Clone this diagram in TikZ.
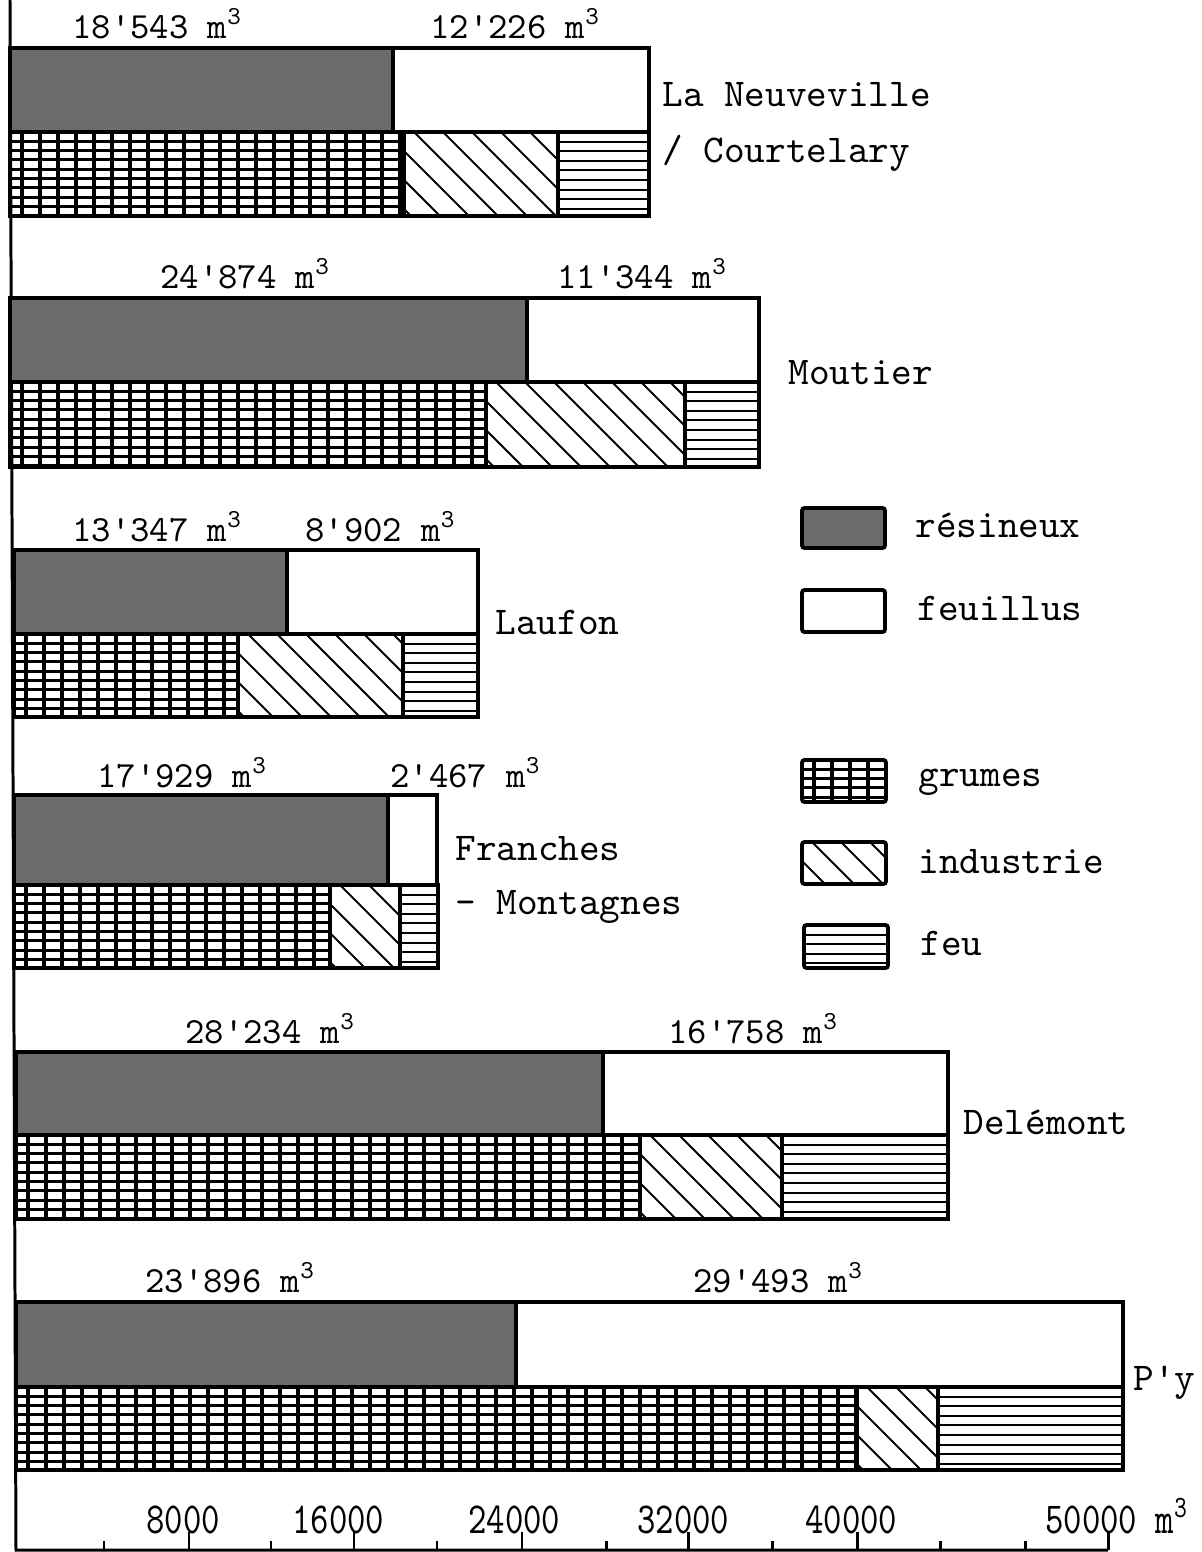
\documentclass[tikz,border=0pt]{standalone}
\usepackage{fontspec}
\setmonofont{lmmono10-regular.otf}

\tikzset{
  bar/.style={draw=black, line width=2.2pt},
  gridline/.style={line width=1.8pt},
  feuline/.style={line width=1.2pt},
  hatchline/.style={line width=1.1pt},
  resineux/.style={bar, fill=black!58},
  feuillus/.style={bar, fill=white},
  grumes/.style={bar, path picture={
    \foreach \i in {1,...,10}
      \draw[gridline] (path picture bounding box.north west) ++(0,\i*9.3) -- ++(1300,0);
    \foreach \i in {1,...,70}
      \draw[gridline] (path picture bounding box.north west) ++(\i*18-6,0) -- ++(0,120);
  }},
  industrie/.style={bar, path picture={
    \foreach \i in {-6,...,12}
      \draw[hatchline] (path picture bounding box.north west) ++(\i*29+10,0) -- ++(130,130);
  }},
  feu/.style={bar, path picture={
    \foreach \i in {1,...,9}
      \draw[feuline] (path picture bounding box.north west) ++(0,\i*9.6) -- ++(1300,0);
  }},
  legendbox/.style={rounded corners=1.5pt},
  val/.style={anchor=base west, inner sep=0pt, font=\ttfamily\fontsize{21}{24}\selectfont},
  region/.style={anchor=base west, inner sep=0pt, font=\ttfamily\fontsize{22.4}{26}\selectfont},
  scalelabel/.style={anchor=base west, inner sep=0pt, font=\ttfamily\fontsize{21}{24}\selectfont},
  axisline/.style={line width=1.7pt},
}

\begin{document}
\begin{tikzpicture}[x=0.02cm, y=-0.02cm]
\useasboundingbox (0,0) rectangle (1202,1552);

% axes
\draw[axisline] (10,0) -- (16,1550) -- (1108,1550);
\foreach \x in {104,271,437,606,772,940,1025}
  \draw[axisline] (\x,1550) -- (\x,1541);
\foreach \x in {189,354,522,688,857,1108}
  \draw[axisline] (\x,1550) -- (\x,1532);
\node[scalelabel] (s8) at (146,1533) {\scalebox{0.95}[1.2]{8000}};
\node[scalelabel] (s16) at (292,1533) {\scalebox{0.95}[1.2]{16000}};
\node[scalelabel] (s24) at (468,1533) {\scalebox{0.95}[1.2]{24000}};
\node[scalelabel] (s32) at (637,1533) {\scalebox{0.95}[1.2]{32000}};
\node[scalelabel] (s40) at (805,1533) {\scalebox{0.95}[1.2]{40000}};
\node[scalelabel] (s50) at (1045,1533) {\scalebox{0.95}[1.2]{50000 m\textsuperscript{3}}};

% La Neuveville / Courtelary
\draw[resineux] (10,48) rectangle (393,132);
\draw[feuillus] (393,48) rectangle (649,132);
\draw[grumes] (10,132) rectangle (404,216);
\draw[industrie] (404,132) rectangle (558,216);
\draw[feu] (558,132) rectangle (649,216);
\node[val] (nvres) at (72,38) {18'543 m\textsuperscript{3}};
\node[val] (nvfeu) at (430,38) {12'226 m\textsuperscript{3}};
\node[region] (nv) at (662,106) {La Neuveville};
\node[region] (co) at (662,162) {/ Courtelary};

% Moutier
\draw[resineux] (10,298) rectangle (527,382);
\draw[feuillus] (527,298) rectangle (759,382);
\draw[grumes] (10,382) rectangle (486,467);
\draw[industrie] (486,382) rectangle (685,467);
\draw[feu] (685,382) rectangle (759,467);
\node[val] (mores) at (160,288) {24'874 m\textsuperscript{3}};
\node[val] (mofeu) at (557,288) {11'344 m\textsuperscript{3}};
\node[region] (mo) at (788,384) {Moutier};

% Laufon
\draw[resineux] (14,550) rectangle (287,634);
\draw[feuillus] (287,550) rectangle (478,634);
\draw[grumes] (14,634) rectangle (238,717);
\draw[industrie] (238,634) rectangle (403,717);
\draw[feu] (403,634) rectangle (478,717);
\node[val] (lares) at (72,541) {13'347 m\textsuperscript{3}};
\node[val] (lafeu) at (305,541) {8'902 m\textsuperscript{3}};
\node[region] (la) at (495,634) {Laufon};

% Franches - Montagnes
\draw[resineux] (14,795) rectangle (388,885);
\draw[feuillus] (388,795) rectangle (437,885);
\draw[grumes] (14,885) rectangle (330,968);
\draw[industrie] (330,885) rectangle (400,968);
\draw[feu] (400,885) rectangle (438,968);
\node[val] (fmres) at (97,787) {17'929 m\textsuperscript{3}};
\node[val] (fmfeu) at (390,787) {2'467 m\textsuperscript{3}};
\node[region] (fr) at (455,860) {Franches};
\node[region] (mt) at (455,914) {- Montagnes};

% Delemont
\draw[resineux] (16,1052) rectangle (603,1135);
\draw[feuillus] (603,1052) rectangle (948,1135);
\draw[grumes] (16,1135) rectangle (640,1219);
\draw[industrie] (640,1135) rectangle (782,1219);
\draw[feu] (782,1135) rectangle (948,1219);
\node[val] (deres) at (185,1043) {28'234 m\textsuperscript{3}};
\node[val] (defeu) at (668,1043) {16'758 m\textsuperscript{3}};
\node[region] (de) at (963,1134) {Delémont};

% P'y
\draw[resineux] (16,1302) rectangle (516,1387);
\draw[feuillus] (516,1302) rectangle (1123,1387);
\draw[grumes] (16,1387) rectangle (857,1470);
\draw[industrie] (857,1387) rectangle (938,1470);
\draw[feu] (938,1387) rectangle (1123,1470);
\node[val] (pyres) at (145,1292) {23'896 m\textsuperscript{3}};
\node[val] (pyfeu) at (693,1292) {29'493 m\textsuperscript{3}};
\node[region] (py) at (1133,1390) {P'y};

% legend
\draw[resineux,legendbox] (802,508) rectangle (885,548);
\draw[feuillus,legendbox] (802,590) rectangle (885,632);
\draw[grumes,legendbox] (802,760) rectangle (886,802);
\draw[industrie,legendbox] (802,842) rectangle (886,884);
\draw[feu,legendbox] (804,925) rectangle (888,968);
\node[region] (lres) at (915,537) {résineux};
\node[region] (lfeuil) at (917,620) {feuillus};
\node[region] (lgr) at (918,786) {grumes};
\node[region] (lind) at (918,873) {industrie};
\node[region] (lfeu) at (920,955) {feu};
\end{tikzpicture}
\end{document}
